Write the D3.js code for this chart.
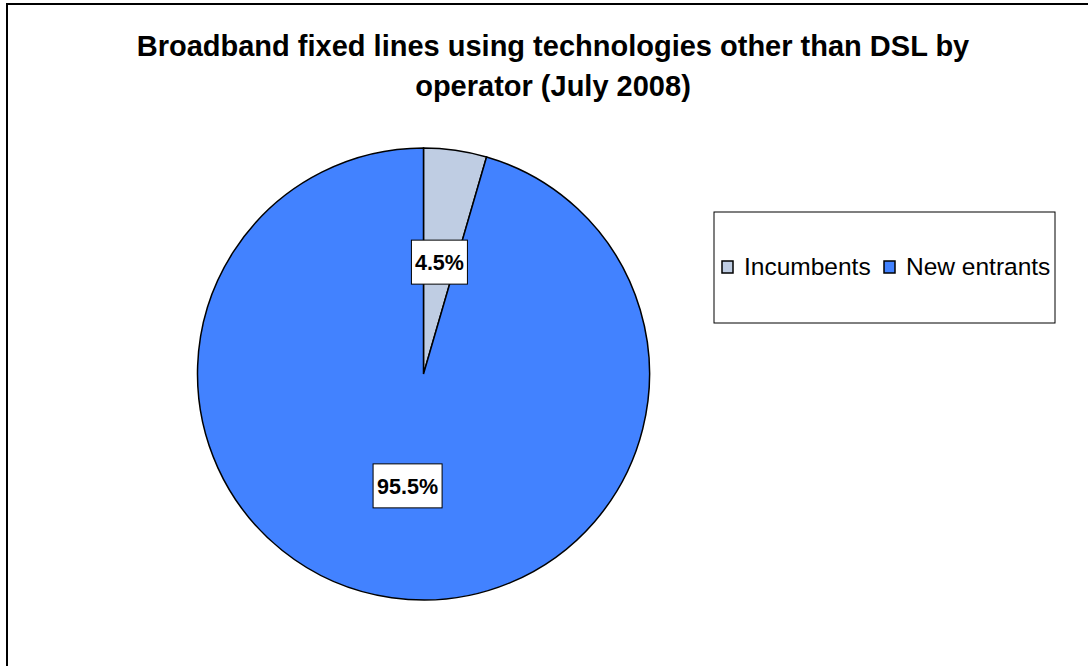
<!DOCTYPE html>
<html><head><meta charset="utf-8">
<script src="https://cdn.jsdelivr.net/npm/d3@7"></script>
<style>body{margin:0;background:#fff;}svg{display:block;font-family:"Liberation Sans",Arial,sans-serif;}</style>
</head><body>
<svg id="c" width="1088" height="666"></svg>
<script>
const categories = ["Incumbents", "New entrants"];
const values = [4.5, 95.5];
const labels = ["4.5%", "95.5%"];
const colors = ["#BFCDE3", "#4282FF"];
const titleLines = ["Broadband fixed lines using technologies other than DSL by", "operator (July 2008)"];

const svg = d3.select("#c");
svg.append("rect").attr("x",7).attr("y",4).attr("width",1100).attr("height",700)
  .attr("fill","#fff").attr("stroke","#000").attr("stroke-width",2);

svg.append("g").selectAll("text").data(titleLines).join("text")
  .attr("x",553).attr("y",(d,i)=>56+i*40).attr("text-anchor","middle")
  .attr("font-weight","bold").attr("font-size",29).text(d=>d);

const cx=423.5, cy=374, R=226;
const pie = d3.pie().sort(null).value(d=>d);
const arcs = pie(values);
const arc = d3.arc().innerRadius(0).outerRadius(R);
const g = svg.append("g").attr("transform",`translate(${cx},${cy})`);
g.selectAll("path").data(arcs).join("path").attr("d",arc)
  .attr("fill",(d,i)=>colors[i]).attr("stroke","#000").attr("stroke-width",1.5);

const lw=[56,69];
arcs.forEach((d,i)=>{
  const [x,y]=arc.centroid(d);
  const lg=g.append("g").attr("transform",`translate(${x},${y})`);
  lg.append("rect").attr("x",-lw[i]/2).attr("y",-22).attr("width",lw[i]).attr("height",44)
    .attr("fill","#fff").attr("stroke","#000").attr("stroke-width",1);
  lg.append("text").attr("text-anchor","middle").attr("dy","0.36em")
    .attr("font-weight","bold").attr("font-size",21.5).text(labels[i]);
});

const leg = svg.append("g");
leg.append("rect").attr("x",714).attr("y",212).attr("width",341).attr("height",111)
  .attr("fill","#fff").attr("stroke","#000").attr("stroke-width",1);
const lx=[722,884];
categories.forEach((c,i)=>{
  leg.append("rect").attr("x",lx[i]).attr("y",261).attr("width",11).attr("height",12)
    .attr("fill",colors[i]).attr("stroke","#000").attr("stroke-width",1.5);
  leg.append("text").attr("x",lx[i]+22).attr("y",275).attr("font-size",24.5).text(c);
});
</script>
</body></html>
